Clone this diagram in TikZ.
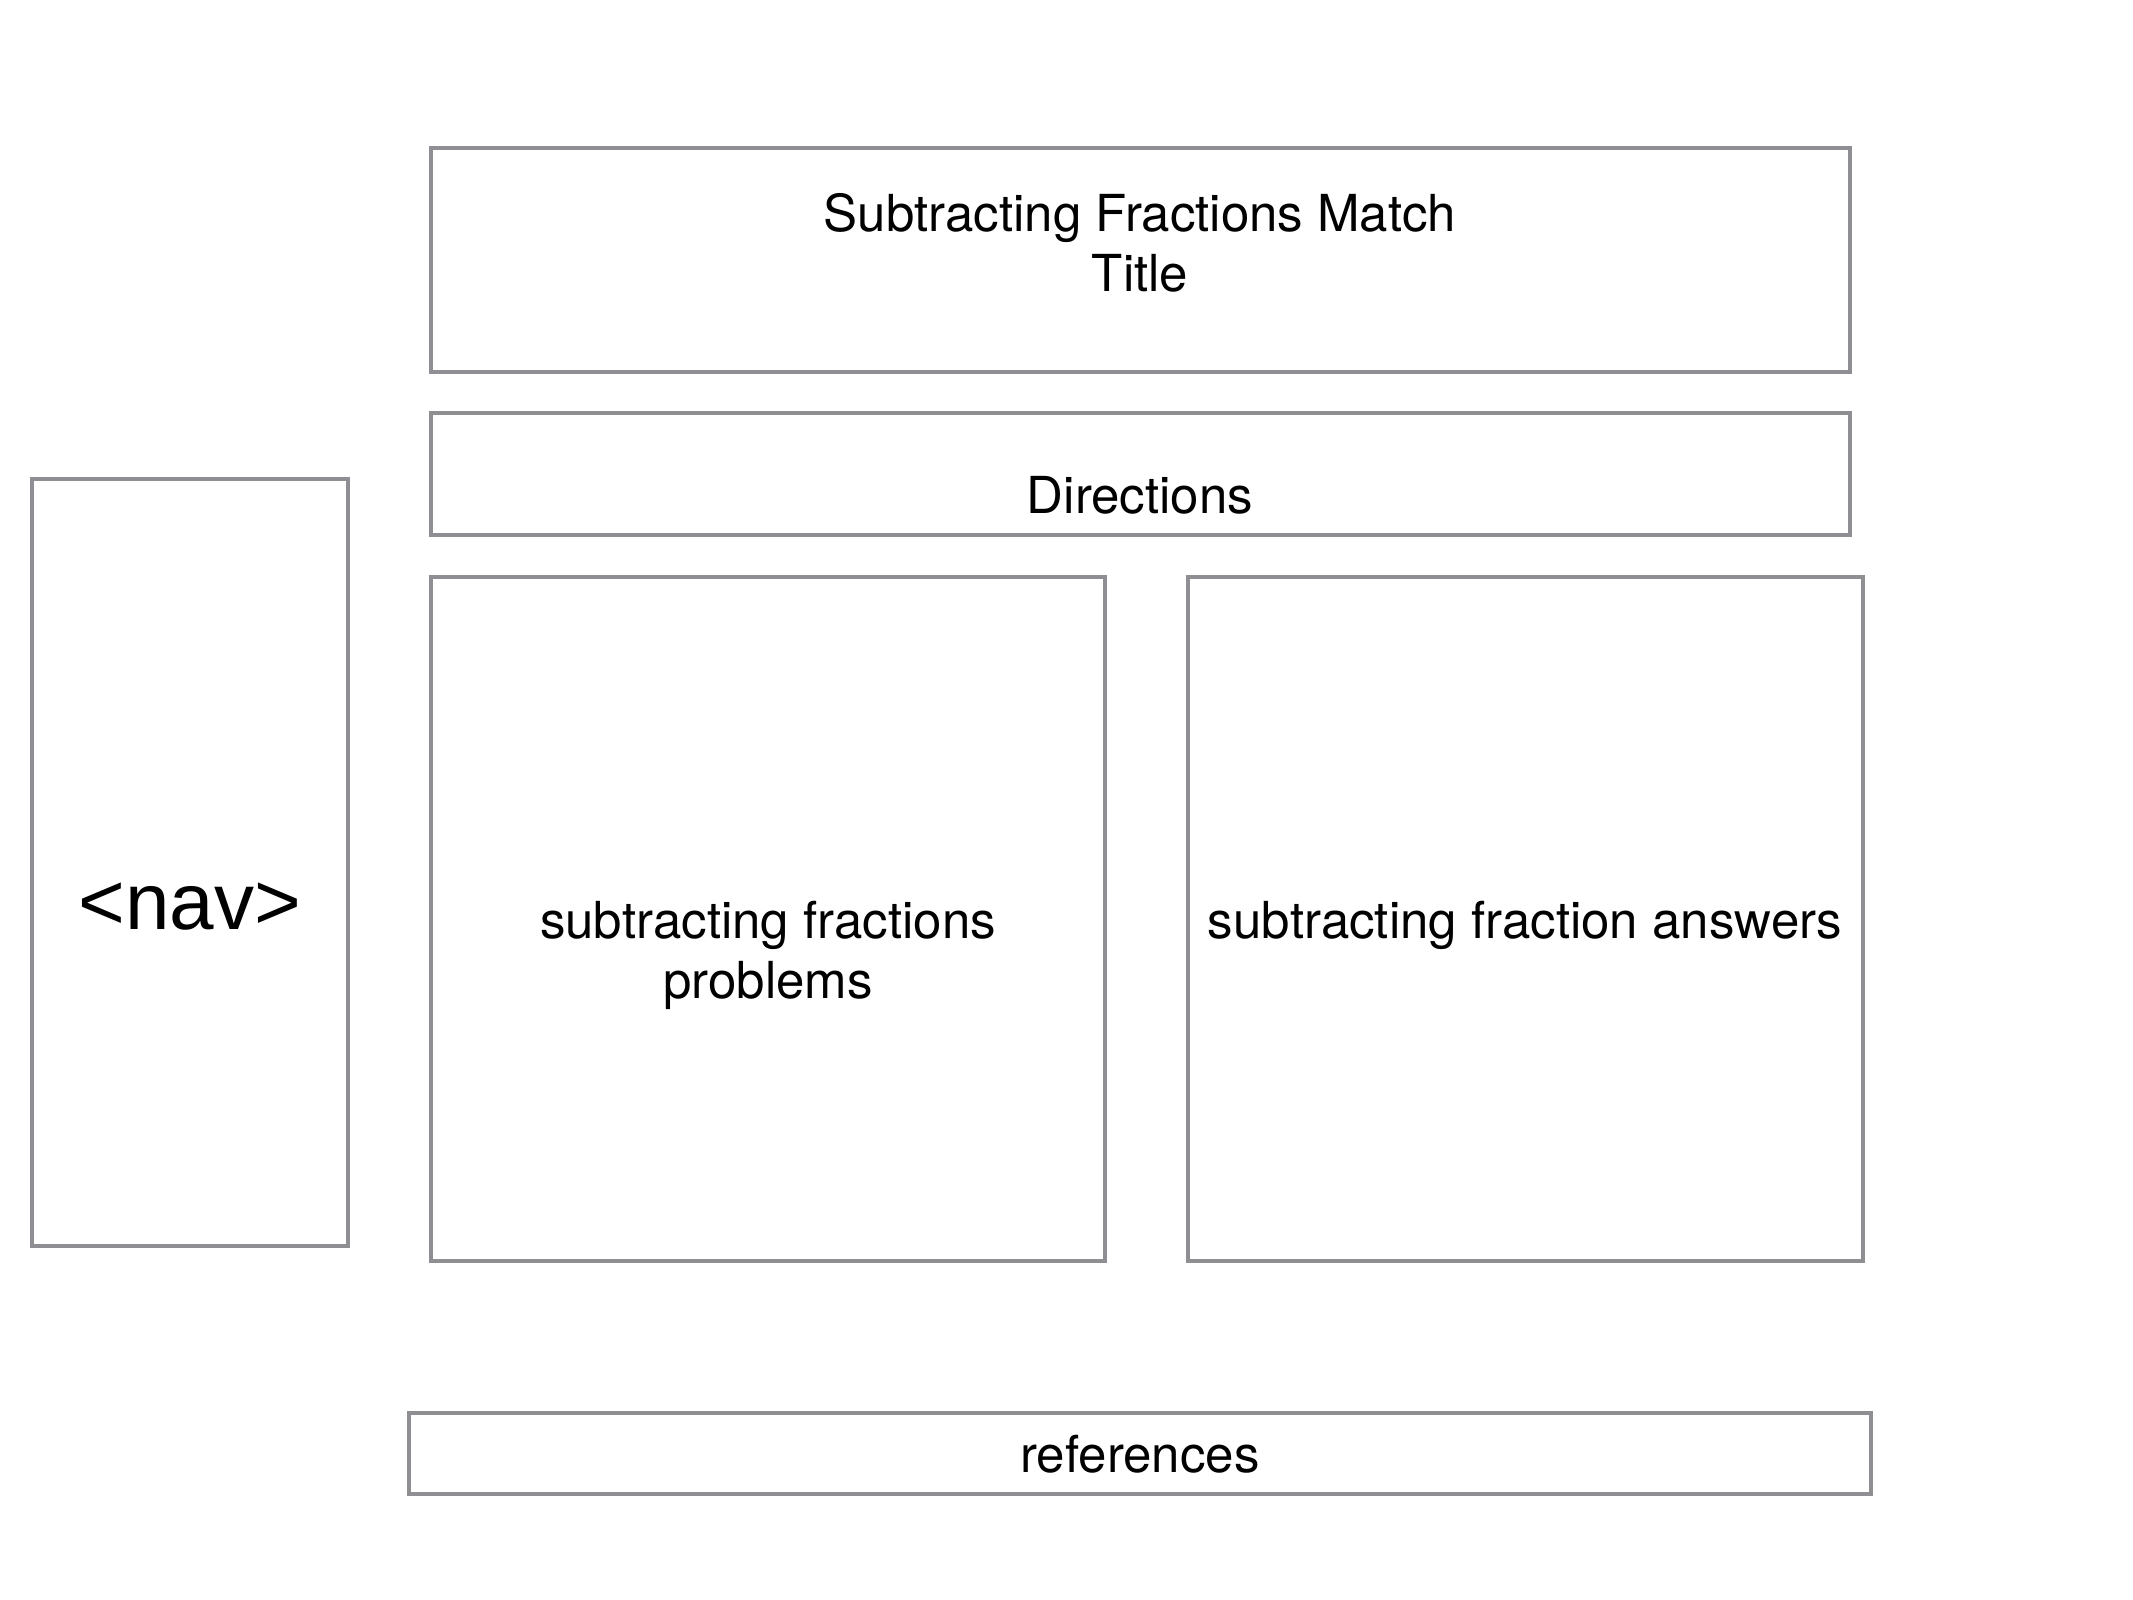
\documentclass[tikz,border=0pt]{standalone}
\usepackage{fontspec}
\setmainfont{TeX Gyre Heros}
\newfontfamily\navfont{Liberation Sans}
\definecolor{frame}{RGB}{142,142,147}
\tikzset{
  box/.style={draw=frame, line width=4pt, rectangle, inner sep=0pt, outer sep=0pt},
  lbl/.style={anchor=base, inner sep=0pt, align=center, font=\fontsize{51}{60}\selectfont},
  biglbl/.style={anchor=base, inner sep=0pt, font=\navfont\fontsize{80}{96}\selectfont}
}
\begin{document}
\begin{tikzpicture}[x=1pt, y=-1pt]
  \useasboundingbox (0,0) rectangle (2133,1600);

  % layout frames
  \node[box, minimum width=1419pt, minimum height=224pt] (title) at (1140.5,260) {};
  \node[box, minimum width=1419pt, minimum height=122pt] (directions) at (1140.5,474) {};
  \node[box, minimum width=316pt, minimum height=767pt] (nav) at (190,862.5) {};
  \node[box, minimum width=674pt, minimum height=684pt] (problems) at (768,919) {};
  \node[box, minimum width=675pt, minimum height=684pt] (answers) at (1525.5,919) {};
  \node[box, minimum width=1462pt, minimum height=81pt] (references) at (1140,1453.5) {};

  % captions (multi-line captions sit on the baseline of their last line)
  \node[lbl] (titletext) at (1140,291) {Subtracting Fractions Match\\Title};
  \node[lbl] (directionstext) at (1140,513) {Directions};
  \node[biglbl] (navtext) at (190,929) {<nav>};
  \node[lbl] (problemstext) at (768,998) {subtracting fractions\\problems};
  \node[lbl] (answerstext) at (1525,938) {subtracting fraction answers};
  \node[lbl] (referencestext) at (1140,1472) {references};
\end{tikzpicture}
\end{document}
